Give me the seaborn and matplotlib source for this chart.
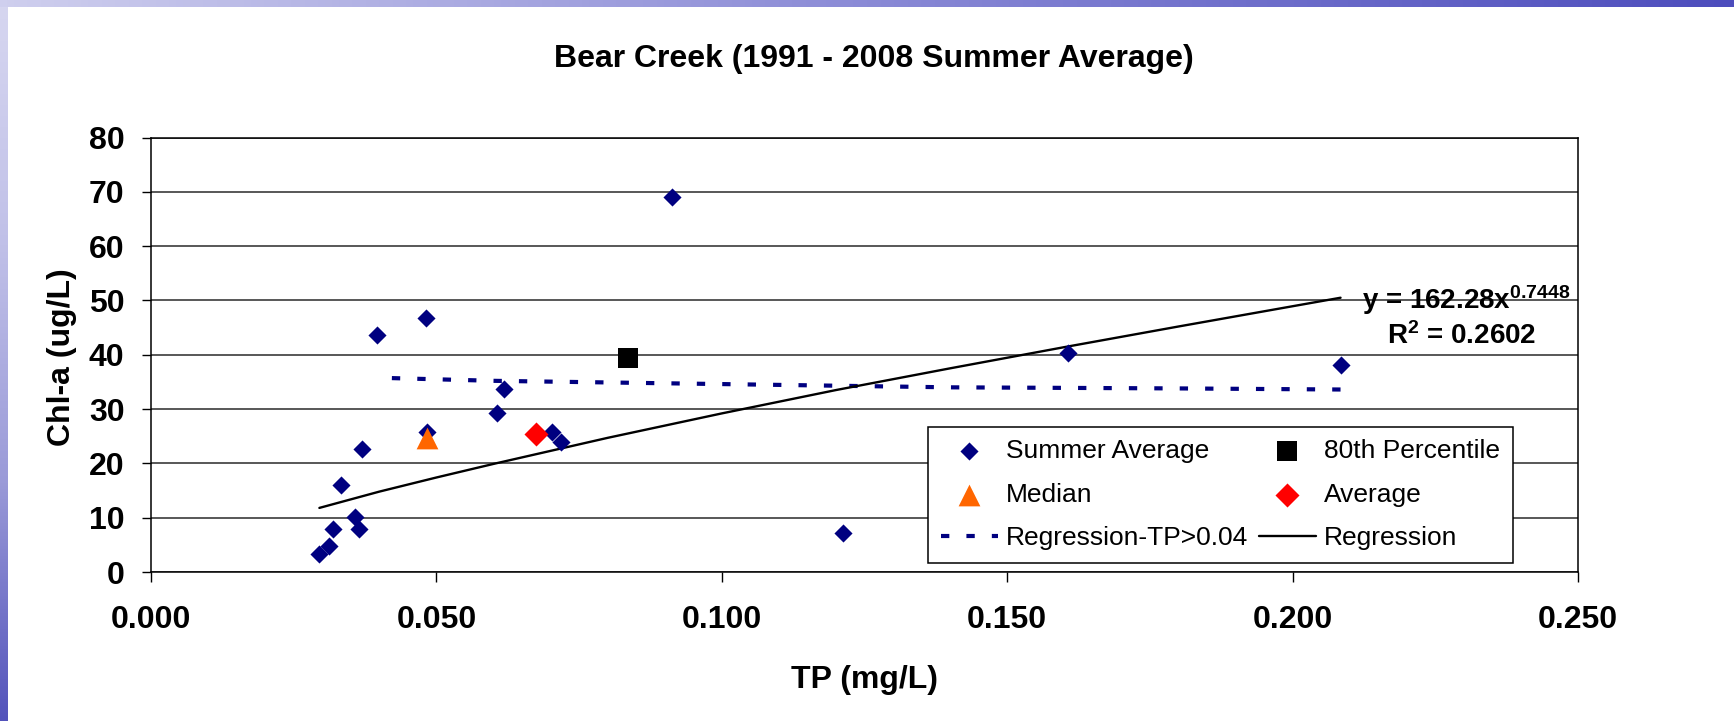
#import packages
import numpy as np
import matplotlib
matplotlib.use("Agg")
import matplotlib.pyplot as plt
import seaborn as sns
from matplotlib.colors import LinearSegmentedColormap

#data: summer average TP vs Chl-a, 1991 - 2008

tp = [0.0295, 0.0312, 0.0319, 0.0332, 0.0357, 0.0364, 0.0369, 0.0396, 0.0482, 0.0484,
      0.0606, 0.0619, 0.0703, 0.0718, 0.0913, 0.1213, 0.1606, 0.2084]
chla = [3.3, 4.8, 8.0, 16.1, 10.2, 8.0, 22.6, 43.6, 46.7, 25.8,
        29.3, 33.7, 25.7, 24.0, 69.0, 7.2, 40.3, 38.1]

#summary points

median_tp = [0.0483]
median_chla = [24.6]
avg_tp = [0.0675]
avg_chla = [25.4]
p80_tp = [0.0836]
p80_chla = [39.4]

#regression curves

reg_tp = [0.0295, 0.04, 0.05, 0.06, 0.08, 0.10, 0.12, 0.14, 0.16, 0.18, 0.2084]
reg_chla = [11.8, 14.8, 17.4, 19.9, 24.7, 29.2, 33.5, 37.5, 41.4, 45.2, 50.5]
reg04_tp = [0.0422, 0.06, 0.08, 0.10, 0.12, 0.14, 0.16, 0.18, 0.2084]
reg04_chla = [35.7, 35.2, 34.9, 34.6, 34.3, 34.0, 33.9, 33.8, 33.6]

x_ticks = [0.0, 0.05, 0.10, 0.15, 0.20, 0.25]
y_ticks = [0, 10, 20, 30, 40, 50, 60, 70, 80]

#style and fonts

sns.set_theme(style="white")
plt.rcParams["font.family"] = ["Liberation Sans", "DejaVu Sans"]
plt.rcParams["text.color"] = "black"
plt.rcParams["axes.labelcolor"] = "black"
plt.rcParams["xtick.color"] = "black"
plt.rcParams["ytick.color"] = "black"
plt.rcParams["mathtext.fontset"] = "custom"
plt.rcParams["mathtext.rm"] = "Liberation Sans:bold"
plt.rcParams["mathtext.it"] = "Liberation Sans:bold"
plt.rcParams["mathtext.bf"] = "Liberation Sans:bold"

W, H = 1734, 721
fig = plt.figure(figsize=(W / 100, H / 100), dpi=100)
fig.patch.set_facecolor("white")

#slide background strips (top and left)

grad = np.linspace(0, 1, 256)
top_cmap = LinearSegmentedColormap.from_list("top", ["#cfcfee", "#8a8ad6", "#4d4dbd"])
left_cmap = LinearSegmentedColormap.from_list("left", ["#d6d6f0", "#c0c0e8", "#9a9ad8", "#5353bb"])
ax_top = fig.add_axes([0, 1 - 7 / H, 1, 7 / H])
ax_top.imshow(grad[None, :], aspect="auto", cmap=top_cmap)
ax_top.set_axis_off()
ax_left = fig.add_axes([0, 0, 8 / W, 1 - 7 / H])
ax_left.imshow(grad[:, None], aspect="auto", cmap=left_cmap)
ax_left.set_axis_off()

#main plot

ax = fig.add_axes([151 / W, 1 - 572 / H, 1427 / W, 434.5 / H])
ax.set_facecolor("white")

sns.lineplot(x=reg04_tp, y=reg04_chla, ax=ax, color="#000080", lw=3.0,
             label="Regression-TP>0.04", zorder=2)
dash_line = ax.lines[-1]
dash_line.set_dashes([2, 4.1])
dash_line.set_dash_capstyle("butt")
sns.lineplot(x=reg_tp, y=reg_chla, ax=ax, color="black", lw=1.7,
             label="Regression", zorder=2)

sns.scatterplot(x=tp, y=chla, ax=ax, marker="D", s=85, color="#000080",
                linewidth=0, label="Summer Average", zorder=3)
sns.scatterplot(x=p80_tp, y=p80_chla, ax=ax, marker="s", s=210, color="black",
                linewidth=0, label="80th Percentile", zorder=4)
sns.scatterplot(x=median_tp, y=median_chla, ax=ax, marker="^", s=245, color="#ff6600",
                linewidth=0, label="Median", zorder=4)
sns.scatterplot(x=avg_tp, y=avg_chla, ax=ax, marker="D", s=150, color="#ff0000",
                linewidth=0, label="Average", zorder=4)

#axes

ax.set_xlim(0, 0.25)
ax.set_ylim(0, 80)
ax.set_xticks(x_ticks)
ax.set_yticks(y_ticks)
ax.set_xticklabels(["%.3f" % v for v in x_ticks], fontsize=23, fontweight="bold")
ax.set_yticklabels([str(v) for v in y_ticks], fontsize=23, fontweight="bold")
ax.tick_params(axis="x", direction="out", length=7.2, width=1, color="black", pad=16.5, bottom=True)
ax.tick_params(axis="y", direction="out", length=6.5, width=1, color="black", pad=12.5, left=True)
ax.yaxis.grid(True, color="#2a2a2a", lw=1.1)
ax.xaxis.grid(False)
ax.set_axisbelow(True)
for side in ["left", "right", "top", "bottom"]:
    ax.spines[side].set_visible(True)
    ax.spines[side].set_color("black")
    ax.spines[side].set_linewidth(1.1)

ax.set_xlabel("TP (mg/L)", fontsize=23, fontweight="bold", va="top")
ax.xaxis.set_label_coords(0.5, -0.213)
ax.set_ylabel("Chl-a (ug/L)", fontsize=23, fontweight="bold")
ax.yaxis.set_label_coords(-0.052, 0.494)

#trendline equation

ax.text(0.995, 0.6053, r"y = 162.28x$^{0.7448}$", transform=ax.transAxes,
        ha="right", va="baseline", fontsize=20, fontweight="bold")
ax.text(0.9711, 0.5247, r"R$^{2}$ = 0.2602", transform=ax.transAxes,
        ha="right", va="baseline", fontsize=20, fontweight="bold")

#legend: column wise order

handles, labels = ax.get_legend_handles_labels()
order = ["Summer Average", "Median", "Regression-TP>0.04",
         "80th Percentile", "Average", "Regression"]
hmap = dict(zip(labels, handles))
leg = ax.legend([hmap[l] for l in order], order, ncol=2, fontsize=19,
                loc="lower left", bbox_to_anchor=(0.5445, 0.0207), borderaxespad=0,
                frameon=True, fancybox=False, framealpha=1, edgecolor="black",
                handlelength=2.16, handletextpad=0.31, columnspacing=0.4,
                labelspacing=0.74, borderpad=0.48)
leg.get_frame().set_linewidth(1.1)

#title

fig.text(874 / W, 1 - 66.7 / H, "Bear Creek (1991 - 2008 Summer Average)",
         ha="center", va="baseline", fontsize=23, fontweight="bold")

fig.savefig("out.png", dpi=100, facecolor="white")
